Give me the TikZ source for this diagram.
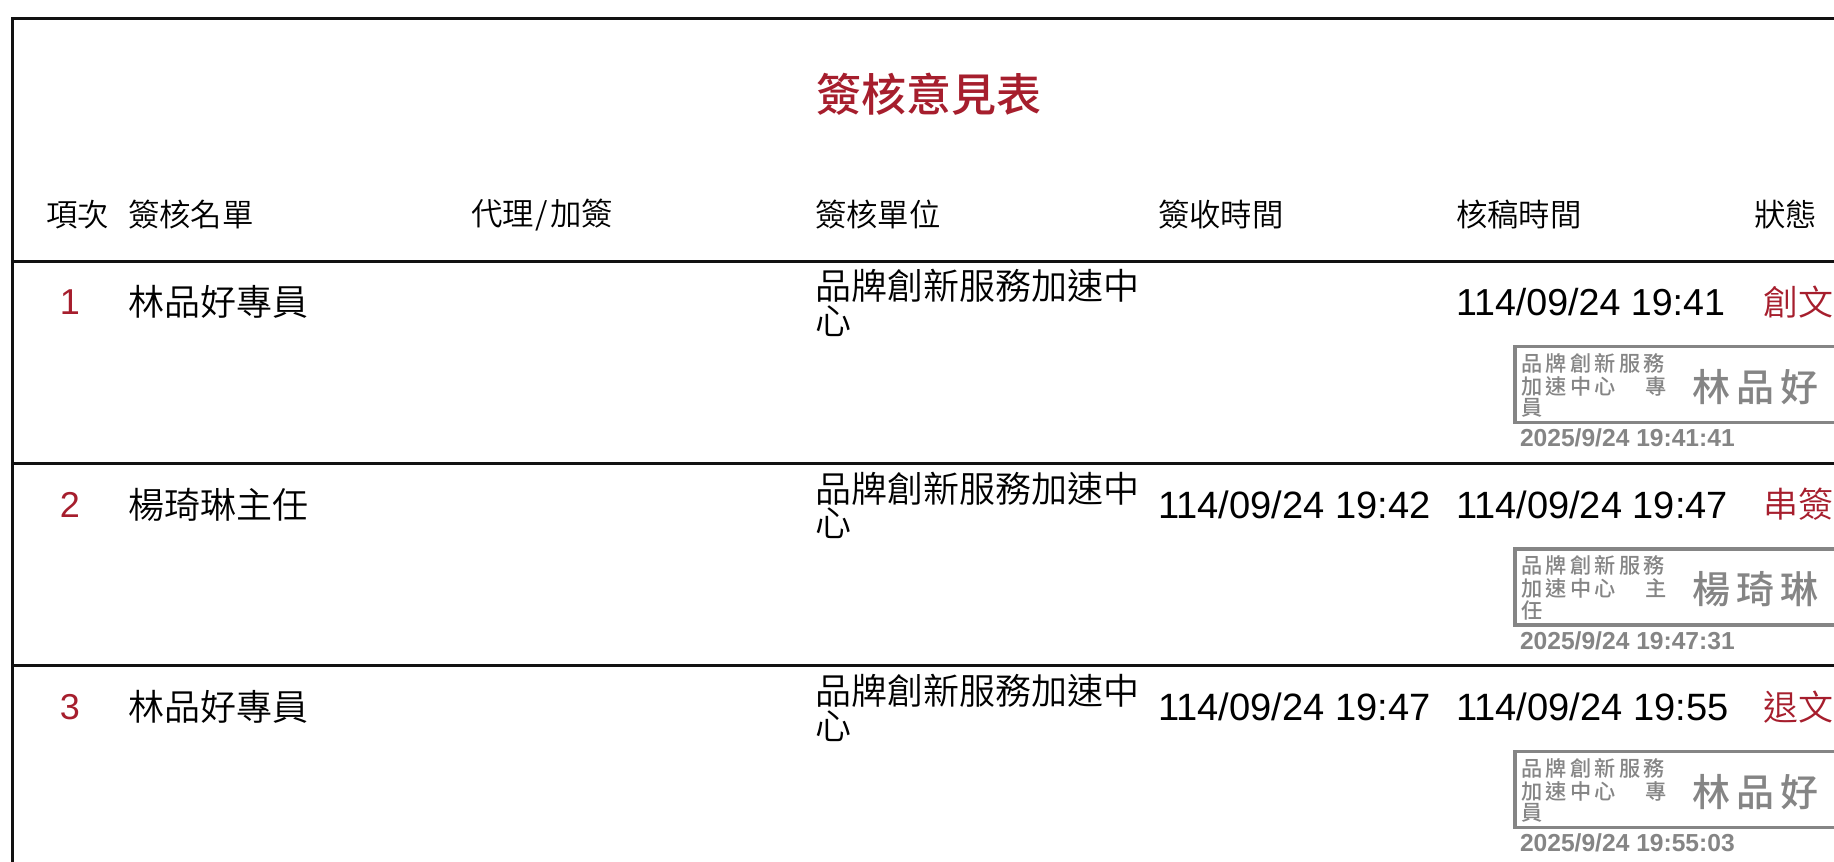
\documentclass[tikz,border=0pt]{standalone}
\usepackage{fontspec}
\setmainfont{Liberation Sans}
\newfontfamily\cjk{Noto Sans CJK TC DemiLight}
\newfontfamily\cjkmed{Noto Sans CJK TC Medium}
\newfontfamily\cjkstamp[LetterSpace=16]{Noto Sans CJK TC Medium}
\definecolor{redtxt}{HTML}{A61E2D}
\definecolor{inkline}{HTML}{111111}
\definecolor{stampgray}{HTML}{858585}
\newcommand{\fs}[1]{\fontsize{#1}{#1}\selectfont}
\tikzset{
 x=1pt,y=-1pt,
 txt/.style={inner sep=0,outer sep=0,anchor=west,text=black},
 head/.style={txt,font=\cjk\fs{31.4}},
 cell/.style={txt,font=\cjk\fs{36}},
 unit/.style={txt,font=\cjk\fs{36}},
 stamptxt/.style={txt,text=stampgray,font=\cjkstamp\fs{21.2}},
 stampname/.style={txt,text=stampgray,font=\cjkstamp\fs{38}},
 stampdate/.style={txt,text=stampgray,font=\bfseries\fs{24.6}},
 stampbox/.style={draw=stampgray,line width=3.5pt,fill=white},
 time/.style={txt,font=\fs{38.1}},
 rule/.style={draw=inkline,line width=3pt},
}
\begin{document}
\begin{tikzpicture}
\useasboundingbox (0,0) rectangle (1834,862);
\clip (0,0) rectangle (1834,862);
\fill[white] (0,0) rectangle (1834,862);
\coordinate (tl) at (12,18); \coordinate (tr) at (1840,18); \coordinate (bl) at (12,870);
\draw[rule] (tr) -- (tl) -- (bl);
\foreach \yy/\nm in {261/a,463.5/b,665.5/c}{
  \coordinate (l\nm) at (12,\yy); \coordinate (r\nm) at (1840,\yy);
  \draw[rule] (l\nm) -- (r\nm);
}
\node[txt,font=\cjkmed\fs{45},text=redtxt,anchor=center] (title) at (929,94) {簽核意見表};
\node[head] (h1) at (46,215) {項次};
\node[head] (h2) at (128,215) {簽核名單};
\node[head] (h3) at (471,215) {代理\hspace{2pt}/\hspace{2pt}加簽};
\node[head] (h4) at (815,215) {簽核單位};
\node[head] (h5) at (1158,215) {簽收時間};
\node[head] (h6) at (1456,215) {核稿時間};
\node[head] (h7) at (1754,215) {狀態};
% rows
\newcommand{\rowcells}[9]{%
  \begin{scope}[yshift=#1]
  \node[txt,text=redtxt,font=\fs{36},anchor=center] (n#2) at (70,302) {#2};
  \node[cell] (name#2) at (128,302) {#3};
  \node[unit] (ua#2) at (815,286) {品牌創新服務加速中};
  \node[unit] (ub#2) at (815,321) {心};
  \node[time] (rcv#2) at (1158,302) {#4};
  \node[time,font=\fs{#9}] (chk#2) at (1456,302) {#5};
  \node[txt,text=redtxt,font=\cjk\fs{35}] (st#2) at (1763,302) {#6};
  \node[stampbox,minimum width=340,minimum height=76,inner sep=0,outer sep=0,anchor=north west] (box#2) at (1515,346.5) {};
  \node[stamptxt] (s1#2) at (1521,363) {品牌創新服務};
  \node[stamptxt] (s2#2) at (1521,386) {\makebox[124pt][l]{加速中心}#7};
  \node[stamptxt] (s3#2) at (1521,408) {#8};
  \end{scope}%
}
\rowcells{0pt}{1}{林品好專員}{}{114/09/24 19:41}{創文}{專}{員}{37.6}
\node[stampname] (sn1) at (1692,387) {林品好};
\node[stampdate] (sd1) at (1520,438) {2025/9/24 19:41:41};
\rowcells{-202.5pt}{2}{楊琦琳主任}{114/09/24 19:42}{114/09/24 19:47}{串簽}{主}{任}{38}
\node[stampname] (sn2) at (1692,589.5) {楊琦琳};
\node[stampdate] (sd2) at (1520,640.5) {2025/9/24 19:47:31};
\rowcells{-405pt}{3}{林品好專員}{114/09/24 19:47}{114/09/24 19:55}{退文}{專}{員}{38.1}
\node[stampname] (sn3) at (1692,792) {林品好};
\node[stampdate] (sd3) at (1520,843) {2025/9/24 19:55:03};
\end{tikzpicture}
\end{document}
